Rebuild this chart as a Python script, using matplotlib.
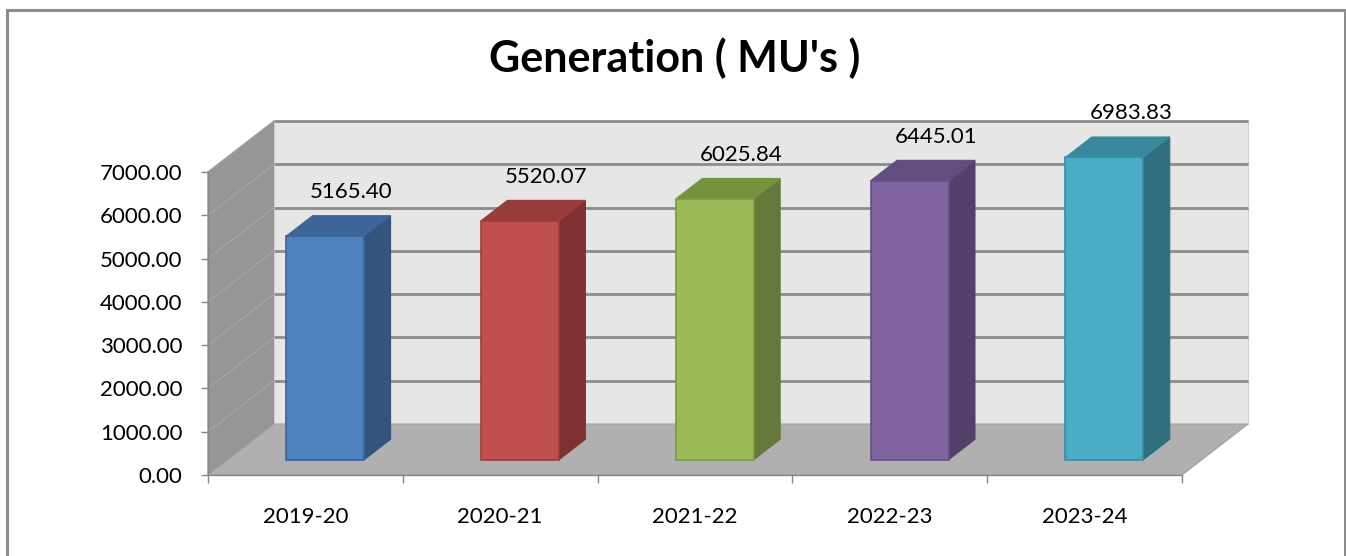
import matplotlib
matplotlib.use("Agg")
import matplotlib.pyplot as plt
from matplotlib.patches import Polygon

# ---- data ----
categories = ["2019-20", "2020-21", "2021-22", "2022-23", "2023-24"]
values = [5165.40, 5520.07, 6025.84, 6445.01, 6983.83]
title = "Generation ( MU's )"
yticks = [0, 1000, 2000, 3000, 4000, 5000, 6000, 7000]

front_cols = ["#4F81BD", "#C0504D", "#9BBB59", "#8064A2", "#4BACC6"]
side_cols = ["#33547D", "#7E3130", "#65793A", "#53406B", "#306F80"]
top_cols = ["#3D6598", "#973C3A", "#77923F", "#624D7F", "#39879C"]
edge_cols = ["#3A649A", "#9B3D3B", "#7C9847", "#664F84", "#3A8CA2"]

FONT = ["Lato", "DejaVu Sans"]
plt.rcParams['font.family'] = FONT
LABEL_FS = 16

W, H = 1346, 556
fig = plt.figure(figsize=(W / 100, H / 100), dpi=100)

# front plane of the plot area (pixels)
X0, X1 = 208, 1182
Y0, Y1 = 475, 172
ax = fig.add_axes([X0 / W, (H - Y0) / H, (X1 - X0) / W, (Y0 - Y1) / H])
n = len(categories)
ymax = 7000
ax.set_xlim(0, n)
ax.set_ylim(0, ymax)

# depth offsets (pixels -> data units)
DXPX, DYPX = 66, 51
dxd = DXPX * n / (X1 - X0)
dyd = DYPX * ymax / (Y0 - Y1)


def P(x, y, d):
    return (x + d * dxd, y + d * dyd)


def poly(pts, fc, ec, lw=0.8, z=1):
    ax.add_patch(Polygon(pts, closed=True, facecolor=fc, edgecolor=ec,
                         linewidth=lw, zorder=z, clip_on=False, joinstyle='miter'))


# walls
poly([P(0, 0, 0), P(0, ymax, 0), P(0, ymax, 1), P(0, 0, 1)], "#969696", "#8A8A8A", z=1)
poly([P(0, 0, 1), P(n, 0, 1), P(n, ymax, 1), P(0, ymax, 1)], "#E6E6E6", "#D0D0D0", z=1)
poly([P(0, 0, 0), P(n, 0, 0), P(n, 0, 1), P(0, 0, 1)], "#B0B0B0", "#A0A0A0", z=1)

# gridlines
for v in yticks[1:]:
    xs, ys = zip(P(0, v, 0), P(0, v, 1), P(n, v, 1))
    ax.plot(xs[1:], ys[1:], color="#8C8C8C", lw=2.0, zorder=2, clip_on=False,
            solid_capstyle='butt')
    ax.plot(xs[:2], ys[:2], color="#A5A5A5", lw=0.9, zorder=2, clip_on=False)

# bars
d0, d1 = 0.3, 0.7
hw = 0.2
for i, v in enumerate(values):
    xc = i + 0.5
    xl, xr = xc - hw, xc + hw
    poly([P(xr, 0, d0), P(xr, 0, d1), P(xr, v, d1), P(xr, v, d0)], side_cols[i], side_cols[i], lw=0.8, z=5)
    poly([P(xl, v, d0), P(xr, v, d0), P(xr, v, d1), P(xl, v, d1)], top_cols[i], top_cols[i], lw=0.8, z=5)
    poly([P(xl, 0, d0), P(xr, 0, d0), P(xr, v, d0), P(xl, v, d0)], front_cols[i], edge_cols[i], lw=1.2, z=6)
    ax.annotate(f"{v:.2f}", xy=P(xc, v, d1), xytext=(0, 17), textcoords='offset points',
                ha='center', va='center', fontsize=LABEL_FS, color='black', zorder=10,
                annotation_clip=False)

# axes styling
for s in ax.spines.values():
    s.set_visible(False)
ax.patch.set_visible(False)
ax.plot([0, 0], [0, ymax], color="#868686", lw=1.0, zorder=3, clip_on=False)
ax.plot([0, n], [0, 0], color="#868686", lw=1.0, zorder=3, clip_on=False)

ax.set_yticks(yticks)
ax.set_yticklabels([f"{t:.2f}" for t in yticks])
ax.tick_params(axis='y', length=4.7, width=1.0, color="#868686", pad=13.5,
               labelsize=LABEL_FS, direction='out')

ax.set_xticks(range(n + 1))
ax.set_xticklabels([""] * (n + 1))
ax.tick_params(axis='x', which='major', length=5.5, width=1.0, color="#868686", direction='out')
ax.set_xticks([i + 0.5 for i in range(n)], minor=True)
ax.set_xticklabels(categories, minor=True)
ax.tick_params(axis='x', which='minor', length=0, pad=23, labelsize=LABEL_FS)

# title
fig.text(675 / W, 1 - 58 / H, title, ha='center', va='center',
         fontsize=31, fontweight='bold', color='black')

# outer border
fig.patches.append(plt.Rectangle((7 / W, -0.05), (1345 - 7) / W, 1.05 - 10 / H,
                                 transform=fig.transFigure, fill=False,
                                 edgecolor="#8C8C8C", linewidth=2.2))

fig.savefig("out.png", dpi=100, facecolor="white")
